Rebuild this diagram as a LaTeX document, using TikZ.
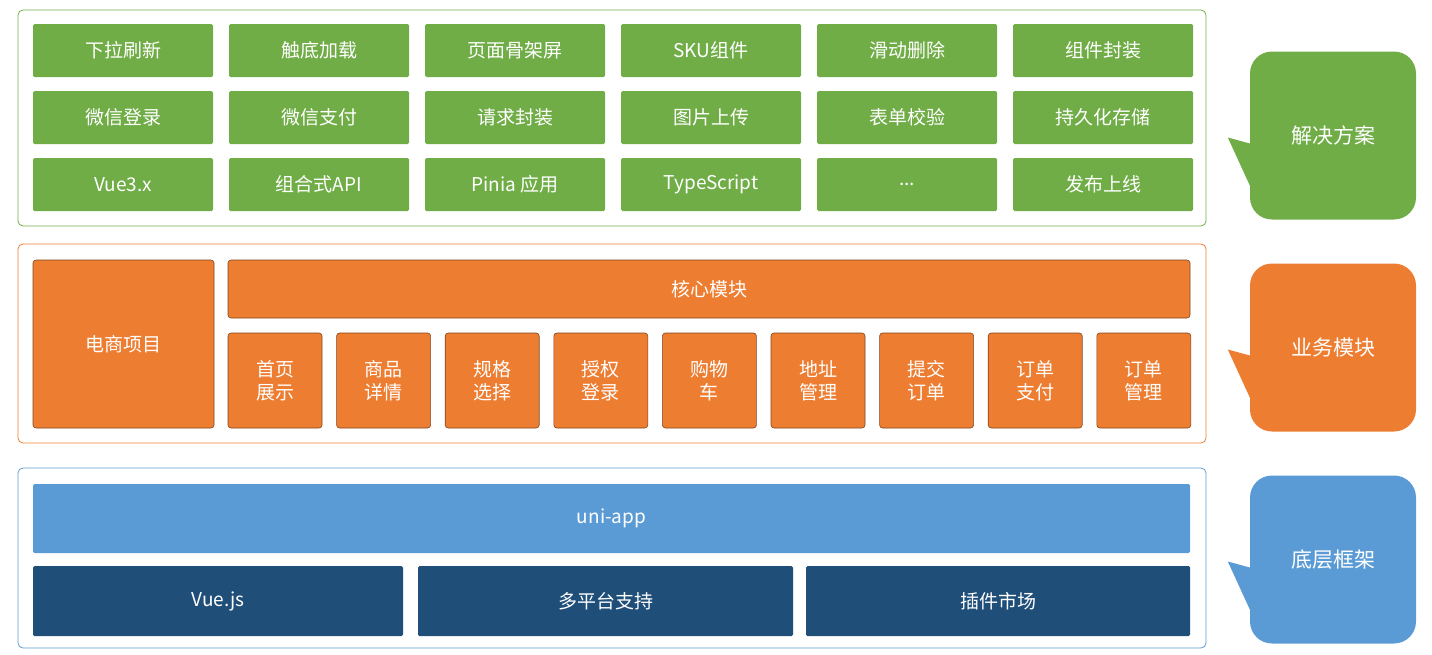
\documentclass[tikz,border=0pt]{standalone}
\usepackage{fontspec}
\setmainfont{Noto Sans CJK SC}
\usetikzlibrary{positioning}
\definecolor{cgreen}{HTML}{70AD47}
\definecolor{corange}{HTML}{ED7D31}
\definecolor{cblue}{HTML}{5B9BD5}
\definecolor{cdark}{HTML}{1F4E79}
\newcommand{\tdots}{...}
\tikzset{
  panel/.style={draw=#1, line width=0.8pt, rounded corners=5pt},
  cell/.style={fill=#1, draw=none, text=white, rounded corners=1.5pt, inner sep=0pt,
    font=\fontsize{19}{23}\selectfont, align=center},
  ocell/.style={fill=corange, draw=black!45!corange, line width=0.6pt, text=white, rounded corners=3pt,
    inner sep=0pt, font=\fontsize{19}{23}\selectfont, align=center},
  bubble/.style={fill=#1, rounded corners=22pt, text=white, inner sep=0pt,
    minimum width=166pt, minimum height=168pt, font=\fontsize{21}{25}\selectfont}
}
\begin{document}
\begin{tikzpicture}[x=1pt,y=-1pt]
\useasboundingbox (0,0) rectangle (1432,654);
% panels
\draw[panel=cgreen] (18,10) rectangle (1206,226);
\draw[panel=corange] (18,244) rectangle (1206,443);
\draw[panel=cblue] (18,468) rectangle (1206,648);
% solution cells
\foreach \txt [count=\i from 0] in {下拉刷新,触底加载,页面骨架屏,SKU组件,滑动删除,组件封装,
  微信登录,微信支付,请求封装,图片上传,表单校验,持久化存储,
  Vue3.x,组合式API,Pinia 应用,TypeScript,\tdots,发布上线}{
  \pgfmathtruncatemacro{\row}{int(\i/6)}
  \pgfmathtruncatemacro{\col}{mod(\i,6)}
  \node[cell=cgreen, minimum width=180pt, minimum height=53pt]
    (s\i) at (123+196*\col, 50.5+67*\row) {\txt};
}
% business
\node[ocell, minimum width=181pt, minimum height=168pt] (shop) at (123.5,344) {电商项目};
\node[ocell, minimum width=962pt, minimum height=58pt] (core) at (709,289) {核心模块};
\foreach \txt [count=\i from 0] in {首页\\展示,商品\\详情,规格\\选择,授权\\登录,购物\\车,地址\\管理,提交\\订单,订单\\支付,订单\\管理}{
  \node[ocell, minimum width=94pt, minimum height=95pt] (m\i) at (275+108.6*\i,380.5) {\txt};
}
% framework
\node[cell=cblue, minimum width=1157pt, minimum height=69pt] (uni) at (611.5,518.5) {uni-app};
\node[cell=cdark, minimum width=370pt, minimum height=70pt] (vue) at (218,601) {Vue.js};
\node[cell=cdark, minimum width=375pt, minimum height=70pt] (plat) at (605.5,601) {多平台支持};
\node[cell=cdark, minimum width=384pt, minimum height=70pt] (plug) at (998,601) {插件市场};
% bubbles
\foreach \name/\col/\y/\txt in {b1/cgreen/135.5/解决方案, b2/corange/347.5/业务模块, b3/cblue/559.5/底层框架}{
  \node[bubble=\col] (\name) at (1333,\y) {\txt};
  \fill[\col] ([yshift=-8pt]\name.west) -- ++(-22,-6) -- ([yshift=-50pt]\name.west) -- cycle;
}
\end{tikzpicture}
\end{document}
